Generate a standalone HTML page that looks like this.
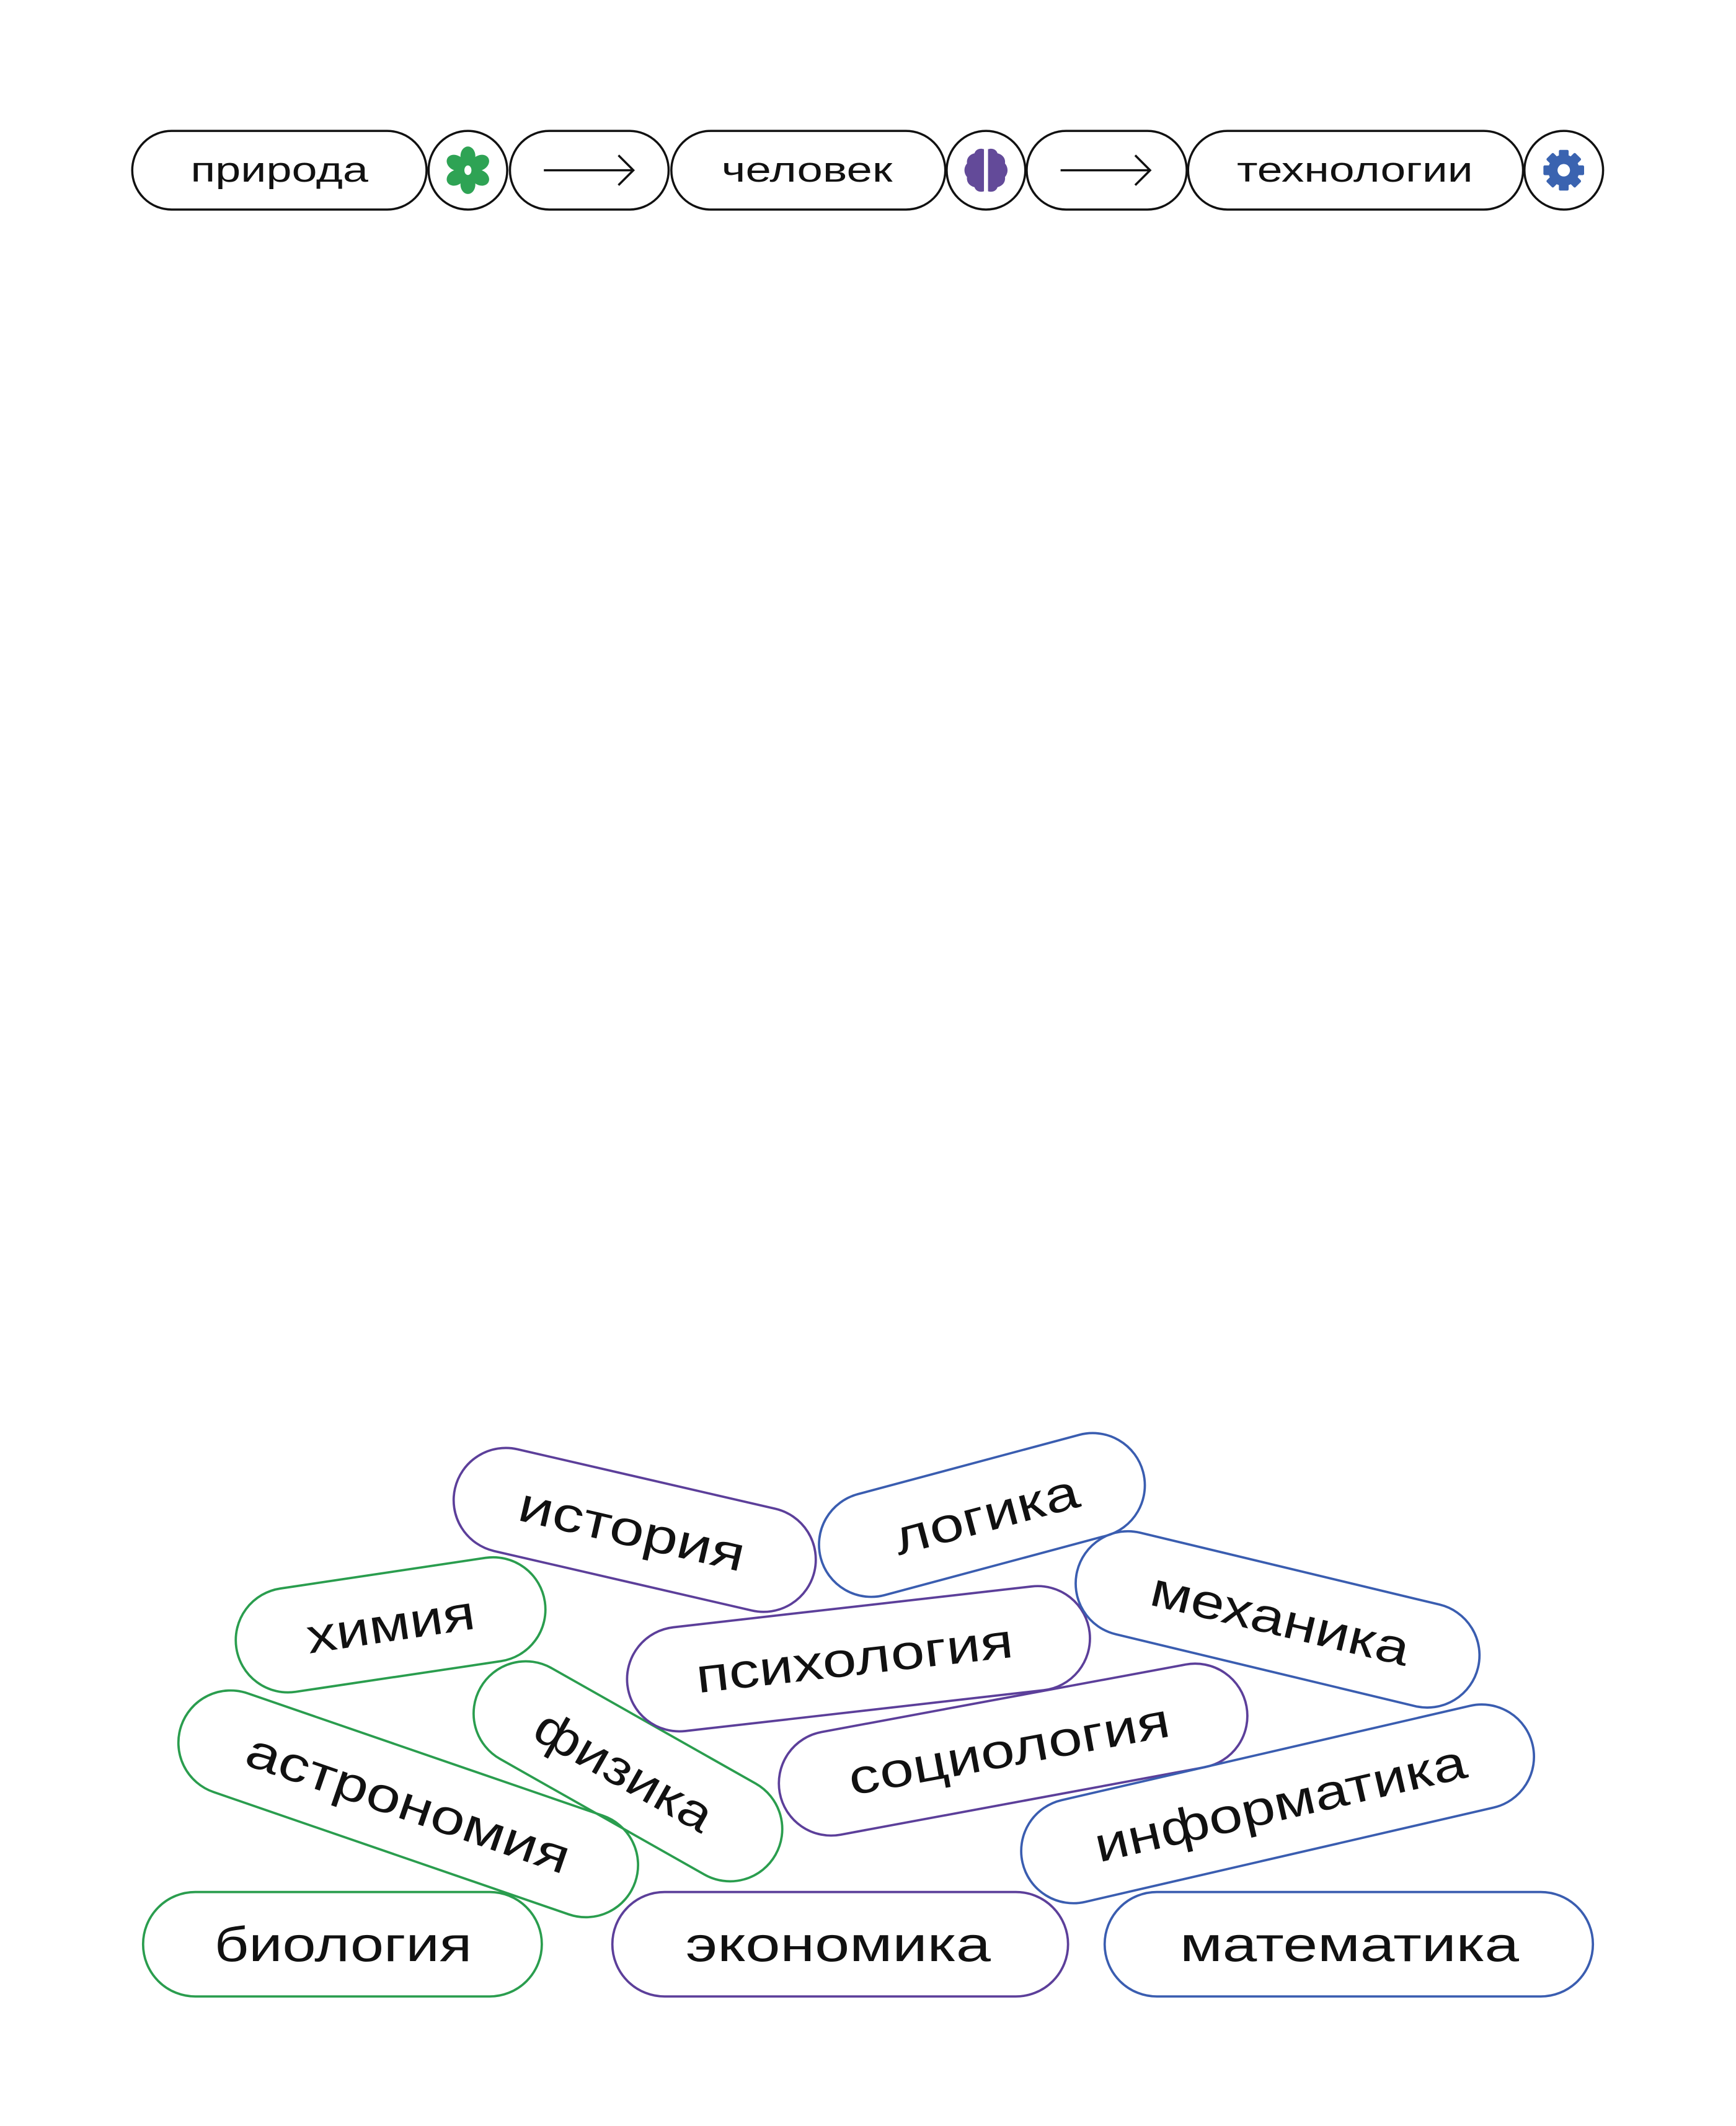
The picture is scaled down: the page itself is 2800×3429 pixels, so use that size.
<!DOCTYPE html>
<html><head><meta charset="utf-8"><style>
html,body{margin:0;padding:0;background:#fff}
svg{display:block}
text{font-family:"Liberation Sans",sans-serif;fill:#111}
</style></head><body>
<svg width="2800" height="3429" viewBox="0 0 1280 1567.5" xmlns="http://www.w3.org/2000/svg">
<rect width="1280" height="1567.5" fill="#fff"/>
<g fill="none" stroke="#111" stroke-width="1.6">
<rect x="97.5" y="96.5" width="217" height="58" rx="29"/>
<circle cx="345" cy="125.5" r="29"/>
<rect x="376" y="96.5" width="117" height="58" rx="29"/>
<rect x="495" y="96.5" width="202" height="58" rx="29"/>
<circle cx="727" cy="125.5" r="29"/>
<rect x="757" y="96.5" width="118" height="58" rx="29"/>
<rect x="876" y="96.5" width="247" height="58" rx="29"/>
<circle cx="1153" cy="125.5" r="29"/>
<path d="M401 125.5H467M456 114.5L467 125.5L456 136.5"/>
<path d="M782 125.5H848M837 114.5L848 125.5L837 136.5"/>
</g>
<text x="206" y="134" font-size="26" text-anchor="middle" textLength="131" lengthAdjust="spacingAndGlyphs">природа</text>
<text x="595" y="134" font-size="26" text-anchor="middle" textLength="126" lengthAdjust="spacingAndGlyphs">человек</text>
<text x="999" y="134" font-size="26" text-anchor="middle" textLength="174" lengthAdjust="spacingAndGlyphs">технологии</text>
<g fill="#2ea354">
<ellipse cx="345" cy="115" rx="5.5" ry="7"/>
<ellipse cx="345" cy="136" rx="5.5" ry="7"/>
<ellipse cx="336" cy="120" rx="5.5" ry="7" transform="rotate(-60 336 120)"/>
<ellipse cx="354" cy="120" rx="5.5" ry="7" transform="rotate(60 354 120)"/>
<ellipse cx="336" cy="131" rx="5.5" ry="7" transform="rotate(60 336 131)"/>
<ellipse cx="354" cy="131" rx="5.5" ry="7" transform="rotate(-60 354 131)"/>
<circle cx="345" cy="125.5" r="7.5"/>
</g>
<ellipse cx="345" cy="125.5" rx="2.6" ry="3.5" fill="#fff"/>
<g fill="#634a99">
<path d="M725.5 110c-3-1-6 0-7 3-4 1-6 4-5.5 7.5-2.5 3-2.5 7 0 10-0.5 3.5 1.5 6.5 5.5 7.5 1 3 4 4 7 3z"/>
<path d="M728.5 110c3-1 6 0 7 3 4 1 6 4 5.5 7.5 2.5 3 2.5 7 0 10 0.5 3.5-1.5 6.5-5.5 7.5-1 3-4 4-7 3z"/>
</g>
<g fill="#3a63b0" transform="translate(1153 125.5)">
<rect x="-3.6" y="-15" width="7.2" height="30" rx="1"/>
<rect x="-3.6" y="-15" width="7.2" height="30" rx="1" transform="rotate(45)"/>
<rect x="-3.6" y="-15" width="7.2" height="30" rx="1" transform="rotate(90)"/>
<rect x="-3.6" y="-15" width="7.2" height="30" rx="1" transform="rotate(135)"/>
<circle r="11.5"/>
<circle r="4.6" fill="#fff"/>
</g>
<g fill="none" stroke-width="1.7">
<g stroke="#2a9d4e">
<rect x="105.5" y="1395" width="294" height="77" rx="38.5"/>
<rect x="-177" y="-38.5" width="354" height="77" rx="38.5" transform="translate(301 1330) rotate(19)"/>
<rect x="-115" y="-38.5" width="230" height="77" rx="38.5" transform="translate(288 1198) rotate(-8.5)"/>
<rect x="-125" y="-38.5" width="250" height="77" rx="38.5" transform="translate(463 1306) rotate(29.5)"/>
</g>
<g stroke="#5c3f9a">
<rect x="451.5" y="1395" width="336" height="77" rx="38.5"/>
<rect x="-136" y="-38.5" width="272" height="77" rx="38.5" transform="translate(468 1128) rotate(13)"/>
<rect x="-171.5" y="-38.5" width="343" height="77" rx="38.5" transform="translate(633 1223) rotate(-6.5)"/>
<rect x="-175" y="-38.5" width="350" height="77" rx="38.5" transform="translate(747 1290) rotate(-10.5)"/>
</g>
<g stroke="#3a5db0">
<rect x="814.5" y="1395" width="360" height="77" rx="38.5"/>
<rect x="-123" y="-38.5" width="246" height="77" rx="38.5" transform="translate(724 1117) rotate(-15)"/>
<rect x="-152" y="-38.5" width="304" height="77" rx="38.5" transform="translate(942 1194) rotate(13.5)"/>
<rect x="-193" y="-38.5" width="386" height="77" rx="38.5" transform="translate(942 1330) rotate(-13)"/>
</g>
</g>
<g font-size="36" text-anchor="middle">
<text x="253" y="1446" textLength="190" lengthAdjust="spacingAndGlyphs">биология</text>
<text x="618" y="1446" textLength="225" lengthAdjust="spacingAndGlyphs">экономика</text>
<text x="995" y="1446" textLength="250" lengthAdjust="spacingAndGlyphs">математика</text>
<text transform="translate(301 1330) rotate(19)" y="12" textLength="250" lengthAdjust="spacingAndGlyphs">астрономия</text>
<text transform="translate(288 1198) rotate(-8.5)" y="12" textLength="125" lengthAdjust="spacingAndGlyphs">химия</text>
<text transform="translate(460 1306) rotate(29.5)" y="12" textLength="145" lengthAdjust="spacingAndGlyphs">физика</text>
<text transform="translate(466 1128) rotate(13)" y="12" textLength="170" lengthAdjust="spacingAndGlyphs">история</text>
<text transform="translate(727 1117) rotate(-15)" y="12" textLength="140" lengthAdjust="spacingAndGlyphs">логика</text>
<text transform="translate(630 1223) rotate(-6.5)" y="12" textLength="235" lengthAdjust="spacingAndGlyphs">психология</text>
<text transform="translate(944 1194) rotate(13.5)" y="12" textLength="195" lengthAdjust="spacingAndGlyphs">механика</text>
<text transform="translate(744 1290) rotate(-10.5)" y="12" textLength="240" lengthAdjust="spacingAndGlyphs">социология</text>
<text transform="translate(944 1330) rotate(-13)" y="12" textLength="280" lengthAdjust="spacingAndGlyphs">информатика</text>
</g>
</svg>
</body></html>
